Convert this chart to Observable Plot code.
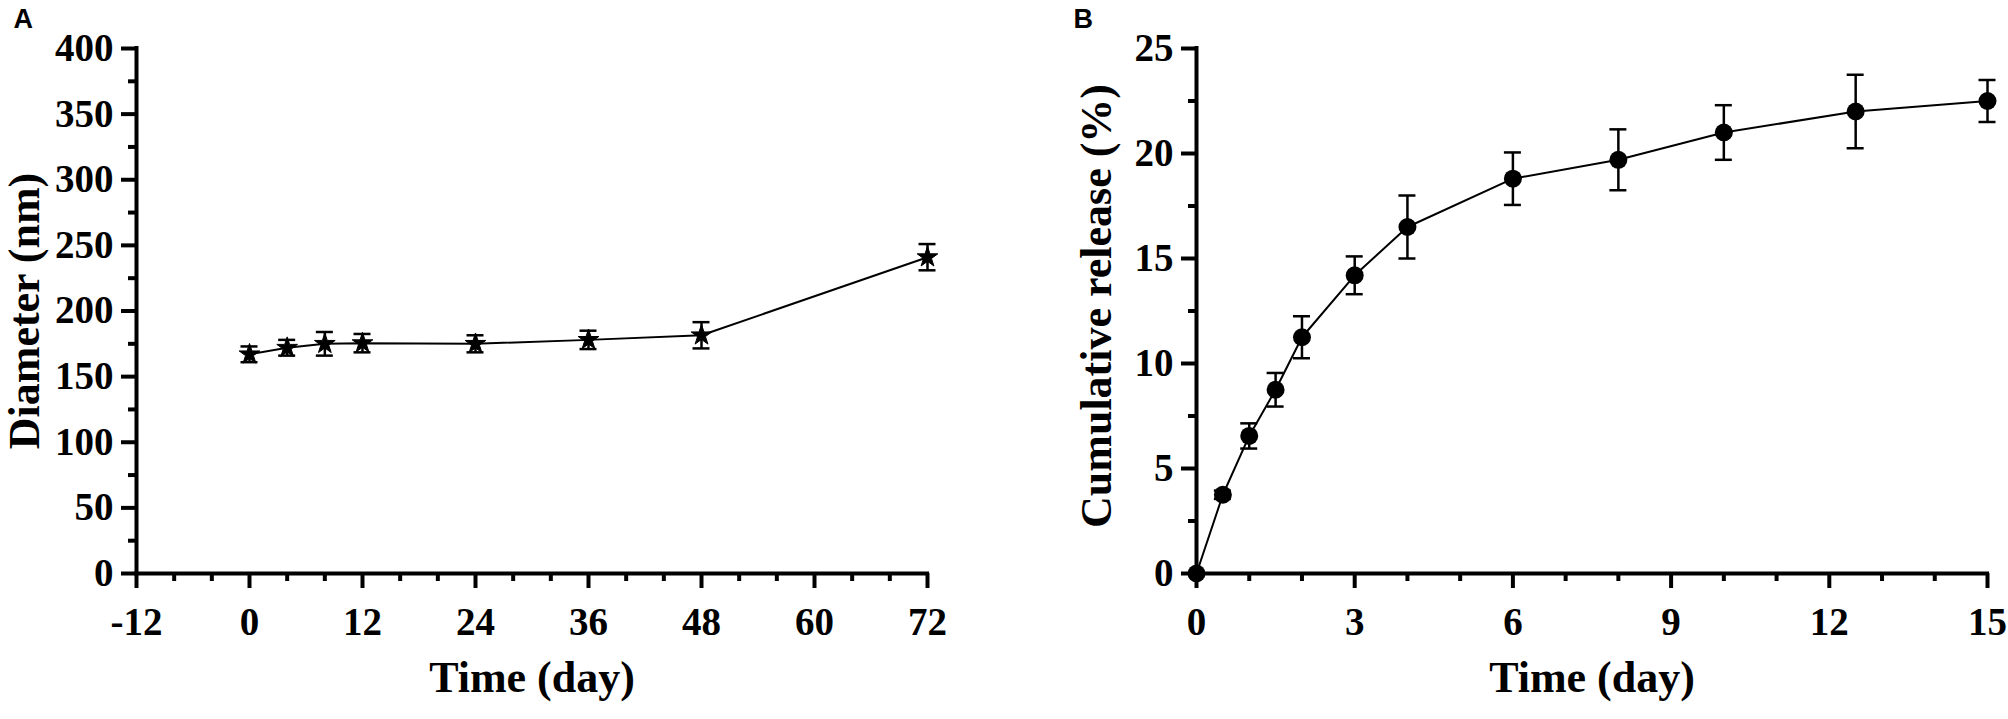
<!DOCTYPE html>
<html>
<head>
<meta charset="utf-8">
<script src="https://cdn.jsdelivr.net/npm/d3@7"></script>
<script src="https://cdn.jsdelivr.net/npm/@observablehq/plot@0.6"></script>
<style>
  html, body { margin: 0; padding: 0; background: #fff; }
  #wrap { position: relative; width: 2008px; height: 719px; overflow: hidden; background: #fff; }
  #a, #b { position: absolute; top: 0; }
  #a { left: 0; }
  #b { left: 1000px; }
</style>
</head>
<body>
<div id="wrap"><div id="a"></div><div id="b"></div></div>
<script>
// ---- Panel A data ----
const daysA = [0, 4, 8, 12, 24, 36, 48, 72];
const diameter = [167, 172, 175, 175.5, 175, 178, 181.5, 241];
const diameterErr = [6, 6, 9, 7, 6.5, 7, 10, 10];
const aXMajor = [-12, 0, 12, 24, 36, 48, 60, 72];
const aXMinor = [-8, -4, 4, 8, 16, 20, 28, 32, 40, 44, 52, 56, 64, 68];
const aYMajor = [0, 50, 100, 150, 200, 250, 300, 350, 400];
const aYMinor = [25, 75, 125, 175, 225, 275, 325, 375];

// ---- Panel B data ----
const daysB = [0, 0.5, 1, 1.5, 2, 3, 4, 6, 8, 10, 12.5, 15];
const release = [0, 3.75, 6.55, 8.75, 11.25, 14.2, 16.5, 18.8, 19.7, 21.0, 22.0, 22.5];
const releaseErr = [0, 0.2, 0.6, 0.8, 1.0, 0.9, 1.5, 1.25, 1.45, 1.3, 1.75, 1.0];
const bXMajor = [0, 3, 6, 9, 12, 15];
const bXMinor = [1, 2, 4, 5, 7, 8, 10, 11, 13, 14];
const bYMajor = [0, 5, 10, 15, 20, 25];
const bYMinor = [2.5, 7.5, 12.5, 17.5, 22.5];

const dataA = daysA.map((x, i) => ({x, y: diameter[i], e: diameterErr[i]}));
const dataB = daysB.map((x, i) => ({x, y: release[i], e: releaseErr[i]}));

const serif = "'Liberation Serif', 'Times New Roman', serif";
const sans = "'Liberation Sans', Arial, sans-serif";
const tickFont = 39, titleFont = 44;
const AX = 4; // axis stroke width

function axes(xMajor, xMinor, yMajor, yMinor, x0, y0, xFmt) {
  return [
    Plot.axisY(yMinor, {anchor: "left", tickSize: 8, tickFormat: () => "", strokeWidth: AX, label: null}),
    Plot.axisY(yMajor, {anchor: "left", tickSize: 15, tickPadding: 8, strokeWidth: AX, label: null,
      fontSize: tickFont, fontFamily: serif, fontWeight: "bold"}),
    Plot.axisX(xMinor, {anchor: "bottom", tickSize: 8, tickFormat: () => "", strokeWidth: AX, label: null}),
    Plot.axisX(xMajor, {anchor: "bottom", tickSize: 15, tickPadding: 19, strokeWidth: AX, label: null,
      tickFormat: xFmt, fontSize: tickFont, fontFamily: serif, fontWeight: "bold"}),
    Plot.ruleY([y0], {strokeWidth: AX, strokeLinecap: "square"}),
    Plot.ruleX([x0], {strokeWidth: AX, strokeLinecap: "square"})
  ];
}

function errorMarks(data, half) {
  const d2 = data.filter(d => d.e > 0);
  return [
    Plot.ruleX(d2, {x: "x", y1: d => d.y - d.e, y2: d => d.y + d.e, strokeWidth: 2.5}),
    Plot.ruleY(d2, {x1: "x", x2: "x", y: d => d.y + d.e, insetLeft: -half, insetRight: -half, strokeWidth: 2.5}),
    Plot.ruleY(d2, {x1: "x", x2: "x", y: d => d.y - d.e, insetLeft: -half, insetRight: -half, strokeWidth: 2.5})
  ];
}

const common = {
  height: 719,
  marginTop: 48,
  marginBottom: 146,
  style: {fontFamily: serif, fontWeight: "bold", color: "black", background: "transparent", overflow: "visible"}
};

const plotA = Plot.plot({
  ...common,
  width: 1000,
  marginLeft: 136,
  marginRight: 73,
  x: {domain: [-12, 72]},
  y: {domain: [0, 400]},
  marks: [
    ...axes(aXMajor, aXMinor, aYMajor, aYMinor, -12, 0, d => String(d)),
    Plot.line(dataA, {x: "x", y: "y", stroke: "black", strokeWidth: 2}),
    ...errorMarks(dataA, 8.5),
    Plot.dot(dataA, {x: "x", y: "y", symbol: "star", r: 6.5, fill: "black", stroke: "black", strokeWidth: 1}),
    Plot.text(["Time (day)"], {text: d => d, frameAnchor: "bottom", dy: 118, fontSize: titleFont, fontFamily: serif, fontWeight: "bold", fill: "black"}),
    Plot.text(["Diameter (nm)"], {text: d => d, frameAnchor: "left", textAnchor: "middle", rotate: -90, dx: -112, fontSize: titleFont, fontFamily: serif, fontWeight: "bold", fill: "black"}),
    Plot.text(["A"], {text: d => d, frameAnchor: "top-left", textAnchor: "start", lineAnchor: "top", dx: -123, dy: -40,
      fontSize: 27, fontFamily: sans, fontWeight: "bold", fill: "black"})
  ]
});

const plotB = Plot.plot({
  ...common,
  width: 1008,
  marginLeft: 196,
  marginRight: 21,
  x: {domain: [0, 15]},
  y: {domain: [0, 25]},
  marks: [
    ...axes(bXMajor, bXMinor, bYMajor, bYMinor, 0, 0, d => String(d)),
    Plot.line(dataB, {x: "x", y: "y", stroke: "black", strokeWidth: 2}),
    ...errorMarks(dataB, 8.5),
    Plot.dot(dataB, {x: "x", y: "y", r: 9, fill: "black", stroke: "none"}),
    Plot.text(["Time (day)"], {text: d => d, frameAnchor: "bottom", dy: 118, fontSize: titleFont, fontFamily: serif, fontWeight: "bold", fill: "black"}),
    Plot.text(["Cumulative release (%)"], {text: d => d, frameAnchor: "left", textAnchor: "middle", rotate: -90, dx: -100, dy: -5, fontSize: titleFont, fontFamily: serif, fontWeight: "bold", fill: "black"}),
    Plot.text(["B"], {text: d => d, frameAnchor: "top-left", textAnchor: "start", lineAnchor: "top", dx: -123, dy: -40,
      fontSize: 27, fontFamily: sans, fontWeight: "bold", fill: "black"})
  ]
});

document.getElementById("a").appendChild(plotA);
document.getElementById("b").appendChild(plotB);
</script>
</body>
</html>
